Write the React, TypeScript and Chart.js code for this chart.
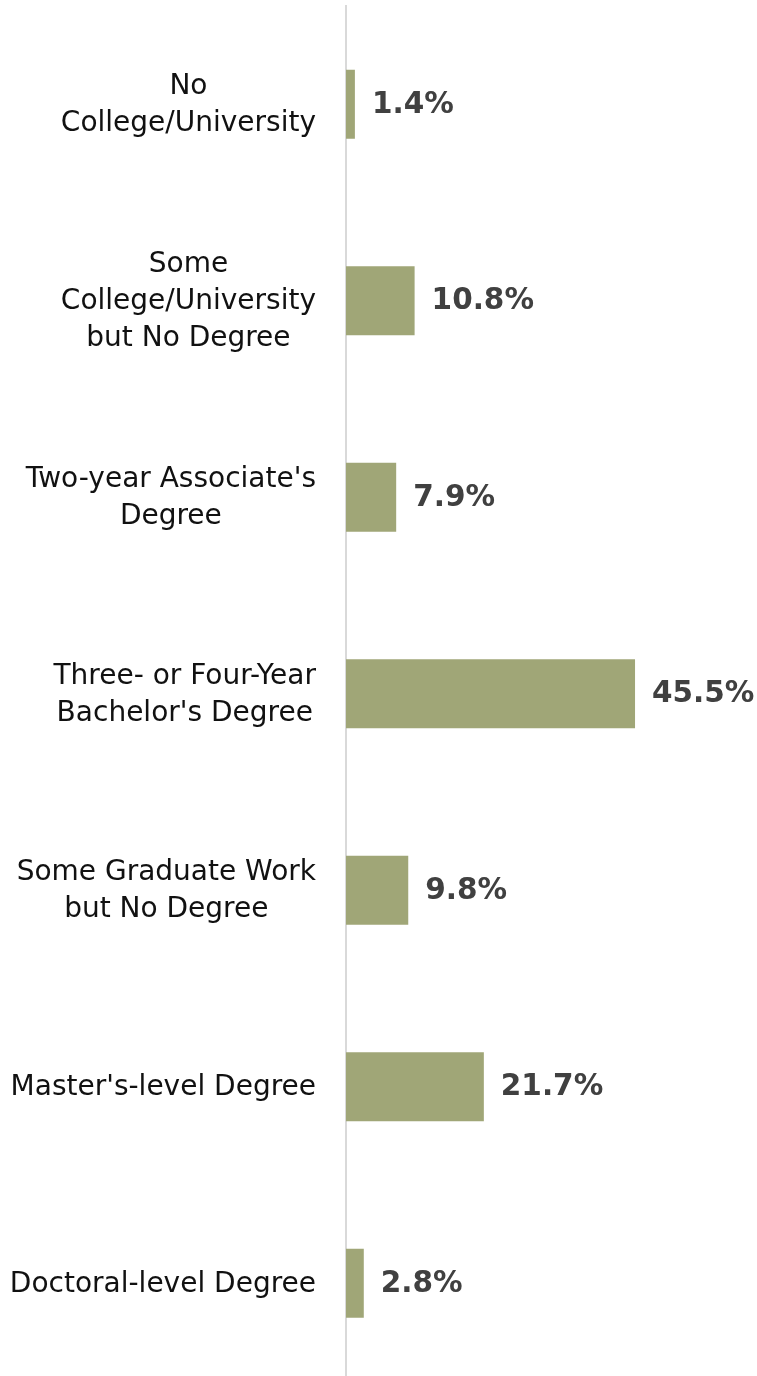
import React, { useEffect, useRef } from "react";
import { Chart, registerables } from "chart.js";

Chart.register(...registerables);

const categories: string[][] = [
  ["No", "College/University"],
  ["Some", "College/University", "but No Degree"],
  ["Two-year Associate's", "Degree"],
  ["Three- or Four-Year", "Bachelor's Degree"],
  ["Some Graduate Work", "but No Degree"],
  ["Master's-level Degree"],
  ["Doctoral-level Degree"],
];
const values: number[] = [1.4, 10.8, 7.9, 45.5, 9.8, 21.7, 2.8];
const valueLabels: string[] = ["1.4%", "10.8%", "7.9%", "45.5%", "9.8%", "21.7%", "2.8%"];

const FONT = "'DejaVu Sans'";
const W = 757;
const H = 1390;

const labelsPlugin = {
  id: "customLabels",
  afterDatasetsDraw(chart: any) {
    const ctx = chart.ctx;
    const meta = chart.getDatasetMeta(0);
    ctx.save();
    // category labels
    ctx.font = `28px ${FONT}`;
    ctx.fillStyle = "#111111";
    ctx.textBaseline = "middle";
    ctx.textAlign = "center";
    const right = 316;
    const lh = 37;
    meta.data.forEach((bar: any, i: number) => {
      const lines = categories[i];
      const maxW = Math.max(...lines.map((l) => ctx.measureText(l).width));
      const cx = right - maxW / 2;
      const y0 = bar.y + 1 - ((lines.length - 1) * lh) / 2;
      lines.forEach((l, j) => ctx.fillText(l, cx, y0 + j * lh));
    });
    // value labels
    ctx.font = `bold 29.5px ${FONT}`;
    ctx.fillStyle = "#404040";
    ctx.textAlign = "left";
    meta.data.forEach((bar: any, i: number) => {
      ctx.fillText(valueLabels[i], bar.x + 17, bar.y + 1);
    });
    ctx.restore();
  },
};

export default function App() {
  const ref = useRef<HTMLCanvasElement | null>(null);
  useEffect(() => {
    if (!ref.current) return;
    const chart = new Chart(ref.current, {
      type: "bar",
      data: {
        labels: categories.map((c) => c.join(" ")),
        datasets: [
          {
            data: values,
            backgroundColor: "#A0A677",
            borderWidth: 0,
            categoryPercentage: 1,
            barPercentage: 0.351,
          },
        ],
      },
      options: {
        indexAxis: "y",
        responsive: false,
        animation: false,
        layout: { padding: { top: 6, bottom: 8.5, left: 0, right: 0 } },
        plugins: { legend: { display: false }, tooltip: { enabled: false } },
        scales: {
          x: { display: false, min: 0, max: 64.7 },
          y: {
            display: true,
            ticks: { display: false },
            grid: { display: false, drawTicks: false },
            border: { display: true, color: "#D9D9D9", width: 2 },
            afterFit: (scale: any) => {
              scale.width = 346;
            },
          },
        },
      },
      plugins: [labelsPlugin],
    });
    return () => chart.destroy();
  }, []);
  return (
    <div style={{ position: "absolute", left: 0, top: 0, width: W, height: 1376, overflow: "hidden", background: "#fff" }}>
      <canvas ref={ref} width={W} height={H} style={{ display: "block", width: W, height: H }} />
    </div>
  );
}
